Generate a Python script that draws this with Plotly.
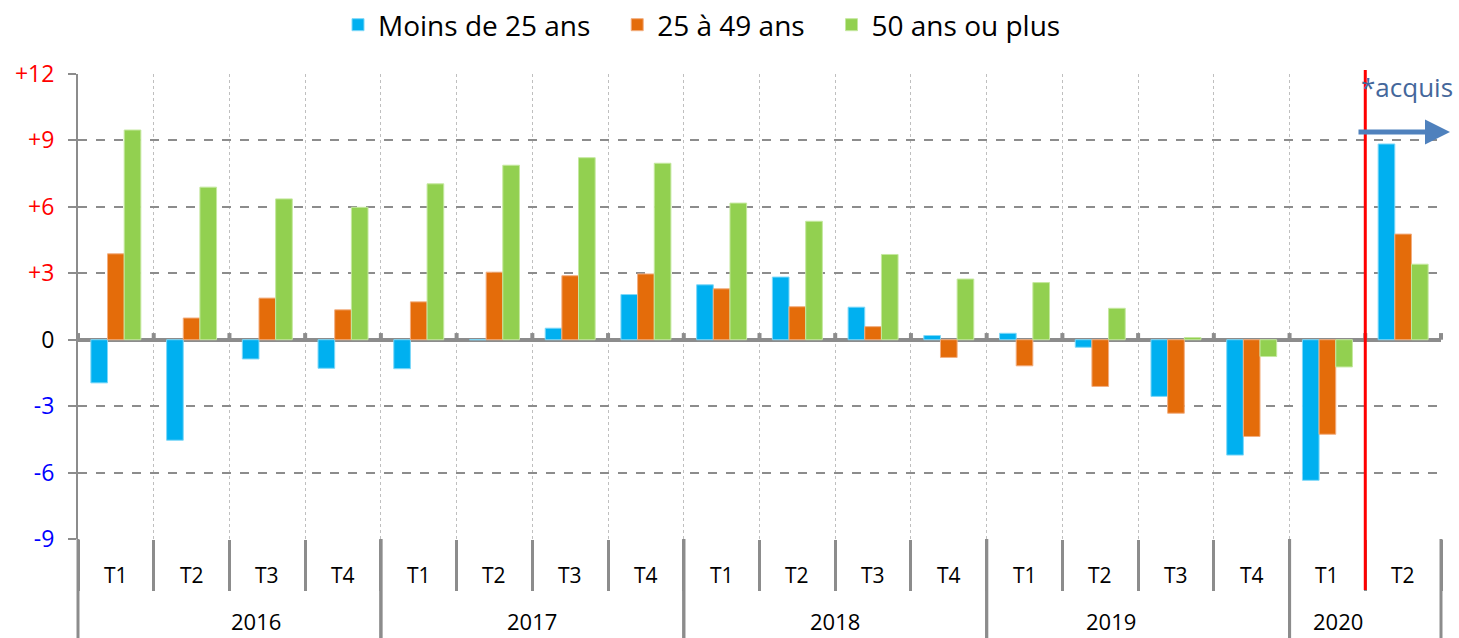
import plotly.graph_objects as go

years = ["2016", "2017", "2018", "2019", "2020"]
quarters_per_year = [["T1", "T2", "T3", "T4"], ["T1", "T2", "T3", "T4"], ["T1", "T2", "T3", "T4"],
                     ["T1", "T2", "T3", "T4"], ["T1", "T2"]]

moins25 = [-1.95, -4.54, -0.87, -1.29, -1.31, 0.0, 0.52, 2.04, 2.48, 2.83, 1.47, 0.19,
           0.29, -0.34, -2.56, -5.21, -6.35, 8.84]
de25a49 = [3.88, 0.98, 1.88, 1.35, 1.71, 3.05, 2.89, 2.97, 2.30, 1.49, 0.59, -0.80,
           -1.18, -2.11, -3.32, -4.37, -4.27, 4.77]
plus50 = [9.47, 6.89, 6.36, 5.98, 7.04, 7.88, 8.22, 7.97, 6.17, 5.35, 3.85, 2.74,
          2.58, 1.42, 0.10, -0.76, -1.23, 3.41]

series_names = ["Moins de 25 ans", "25 à 49 ans", "50 ans ou plus"]
colors = ["#00B0F0", "#E46C0A", "#92D050"]
outline = ["#7FD8F8", "#F2AE80", "#C5E89F"]

y_ticks = [-9, -6, -3, 0, 3, 6, 9, 12]

cats, qlabels, year_spans = [], [], []
for y, qs in zip(years, quarters_per_year):
    start = len(cats)
    for q in qs:
        cats.append(f"{y}-{q}")
        qlabels.append(q)
    year_spans.append((y, start, len(cats)))
n = len(cats)

FONT = "Open Sans"
W, H = 1459, 638
ml, mr, mt, mb = 78, 18, 74, 99
ph = H - mt - mb
pw = W - ml - mr

fig = go.Figure()
pad = "\u00a0\u00a0\u00a0"
for i, (name, vals, c, oc) in enumerate(zip(series_names, [moins25, de25a49, plus50], colors, outline)):
    label = name + (pad if i < len(series_names) - 1 else "")
    fig.add_trace(go.Bar(x=cats, y=vals, name=label, marker=dict(color=c, line=dict(color=oc, width=1))))


def tick_text(v):
    if v > 0:
        return f'<span style="color:#FF0000">+{v}</span>'
    if v < 0:
        return f'<span style="color:#0000FF">{v}</span>'
    return '<span style="color:#000000">0</span>'


shapes = []
annotations = []
# year dividers
for y, s, e in year_spans:
    for b in (s, e):
        shapes.append(dict(type="line", xref="paper", yref="paper", x0=b / n, x1=b / n,
                           y0=0, y1=-(H - mt - ph) / ph, line=dict(color="#8C8C8C", width=3)))
    annotations.append(dict(text=y, xref="paper", yref="paper", x=(s + e) / 2 / n,
                            y=-82 / ph, yanchor="middle", showarrow=False,
                            font=dict(size=22, color="#000000", family=FONT)))
# small tick marks on zero line at boundaries
for b in range(n + 1):
    shapes.append(dict(type="line", xref="paper", yref="y", x0=b / n, x1=b / n, y0=0, y1=0.3,
                       line=dict(color="#8C8C8C", width=4)))
# quarter labels
for c, q in zip(cats, qlabels):
    annotations.append(dict(text=q, xref="x", yref="paper", x=c, y=-36 / ph, yanchor="middle",
                            showarrow=False, font=dict(size=21, color="#000000", family=FONT)))

# red line between last two quarters
bnd = (n - 1) / n
shapes.append(dict(type="line", xref="paper", yref="paper", x0=bnd, x1=bnd,
                   y0=-51 / ph, y1=1 + 4 / ph, line=dict(color="#FF0000", width=3)))

annotations.append(dict(text="*acquis", xref="paper", yref="paper", x=bnd - 6 / pw, y=1 - 13 / ph,
                        xanchor="left", yanchor="middle", showarrow=False,
                        font=dict(size=26, color="#44679B", family=FONT)))
annotations.append(dict(text="", xref="paper", yref="paper", x=1 + 9 / pw, y=1 - 58 / ph,
                        ax=-93, ay=0, axref="pixel", ayref="pixel", showarrow=True,
                        arrowhead=2, arrowsize=1, arrowwidth=5, arrowcolor="#4F81BD"))

fig.update_layout(
    width=W, height=H,
    margin=dict(l=ml, r=mr, t=mt, b=mb, autoexpand=False),
    plot_bgcolor="white", paper_bgcolor="white",
    barmode="group", bargap=0.34, bargroupgap=0,
    font=dict(family=FONT, color="#000000"),
    legend=dict(orientation="h", x=(702 - ml) / pw, xanchor="center", yref="paper",
                y=1 + (mt - 25) / ph, yanchor="middle", font=dict(size=28, family=FONT), itemwidth=30),
    shapes=shapes, annotations=annotations,
)
fig.update_xaxes(type="category", categoryorder="array", categoryarray=cats,
                 showticklabels=False, tickson="boundaries", ticks="outside", ticklen=51,
                 tickwidth=3, tickcolor="#8C8C8C", showgrid=True, gridcolor="#BFBFBF",
                 griddash="dot", gridwidth=1, zeroline=False, showline=False,
                 range=[-0.5, n - 0.5], automargin=False)
fig.update_yaxes(range=[-9, 12], tickvals=y_ticks, ticktext=[tick_text(v) for v in y_ticks],
                 tickfont=dict(size=23, family=FONT), showgrid=True, gridcolor="#8C8C8C",
                 griddash="dash", gridwidth=1.5, zeroline=True, zerolinecolor="#8C8C8C",
                 zerolinewidth=4, showline=True, linecolor="#8C8C8C", linewidth=2,
                 ticks="outside", ticklen=8, tickcolor="#8C8C8C", tickwidth=1.5,
                 ticklabelstandoff=9, automargin=False)

fig.write_html("out.html", config={"displayModeBar": False},
               post_script="document.body.style.margin='0';")
